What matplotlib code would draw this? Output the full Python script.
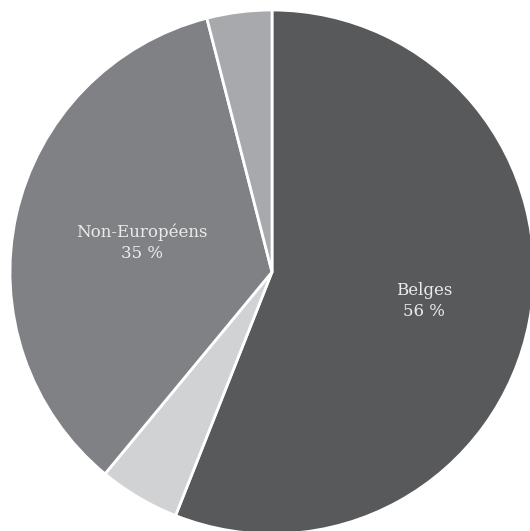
import numpy as np
import matplotlib.pyplot as plt

# Share of population by origin (percent), clockwise from 12 o'clock
categories = ["Belges", "Européens", "Non-Européens", "Autres"]
shares = [56, 5, 35, 4]
labels_shown = ["Belges", None, "Non-Européens", None]
colors = ["#58595b", "#d1d2d4", "#808184", "#a7a9ac"]
label_dist = [0.59, None, 0.51, None]

W, H = 530, 531
cx, cy, r = 272, 272, 262

fig = plt.figure(figsize=(W / 100, H / 100), dpi=100)
ax = fig.add_axes([0, 0, 1, 1])

wedges, _ = ax.pie(
    shares,
    colors=colors,
    startangle=90,
    counterclock=False,
    radius=1.0,
    wedgeprops=dict(edgecolor="white", linewidth=2),
)

for w, name, val, d in zip(wedges, labels_shown, shares, label_dist):
    if name is None:
        continue
    mid = np.deg2rad((w.theta1 + w.theta2) / 2)
    ax.text(d * np.cos(mid), d * np.sin(mid), f"{name}\n{val} %",
            ha="center", va="center", color="#ebebeb",
            fontsize=12, family="DejaVu Serif", linespacing=1.3)

ax.set_xlim(-cx / r, (W - cx) / r)
ax.set_ylim(-(H - cy) / r, cy / r)
ax.set_aspect("auto")
ax.axis("off")

fig.savefig("out.png", dpi=100)
